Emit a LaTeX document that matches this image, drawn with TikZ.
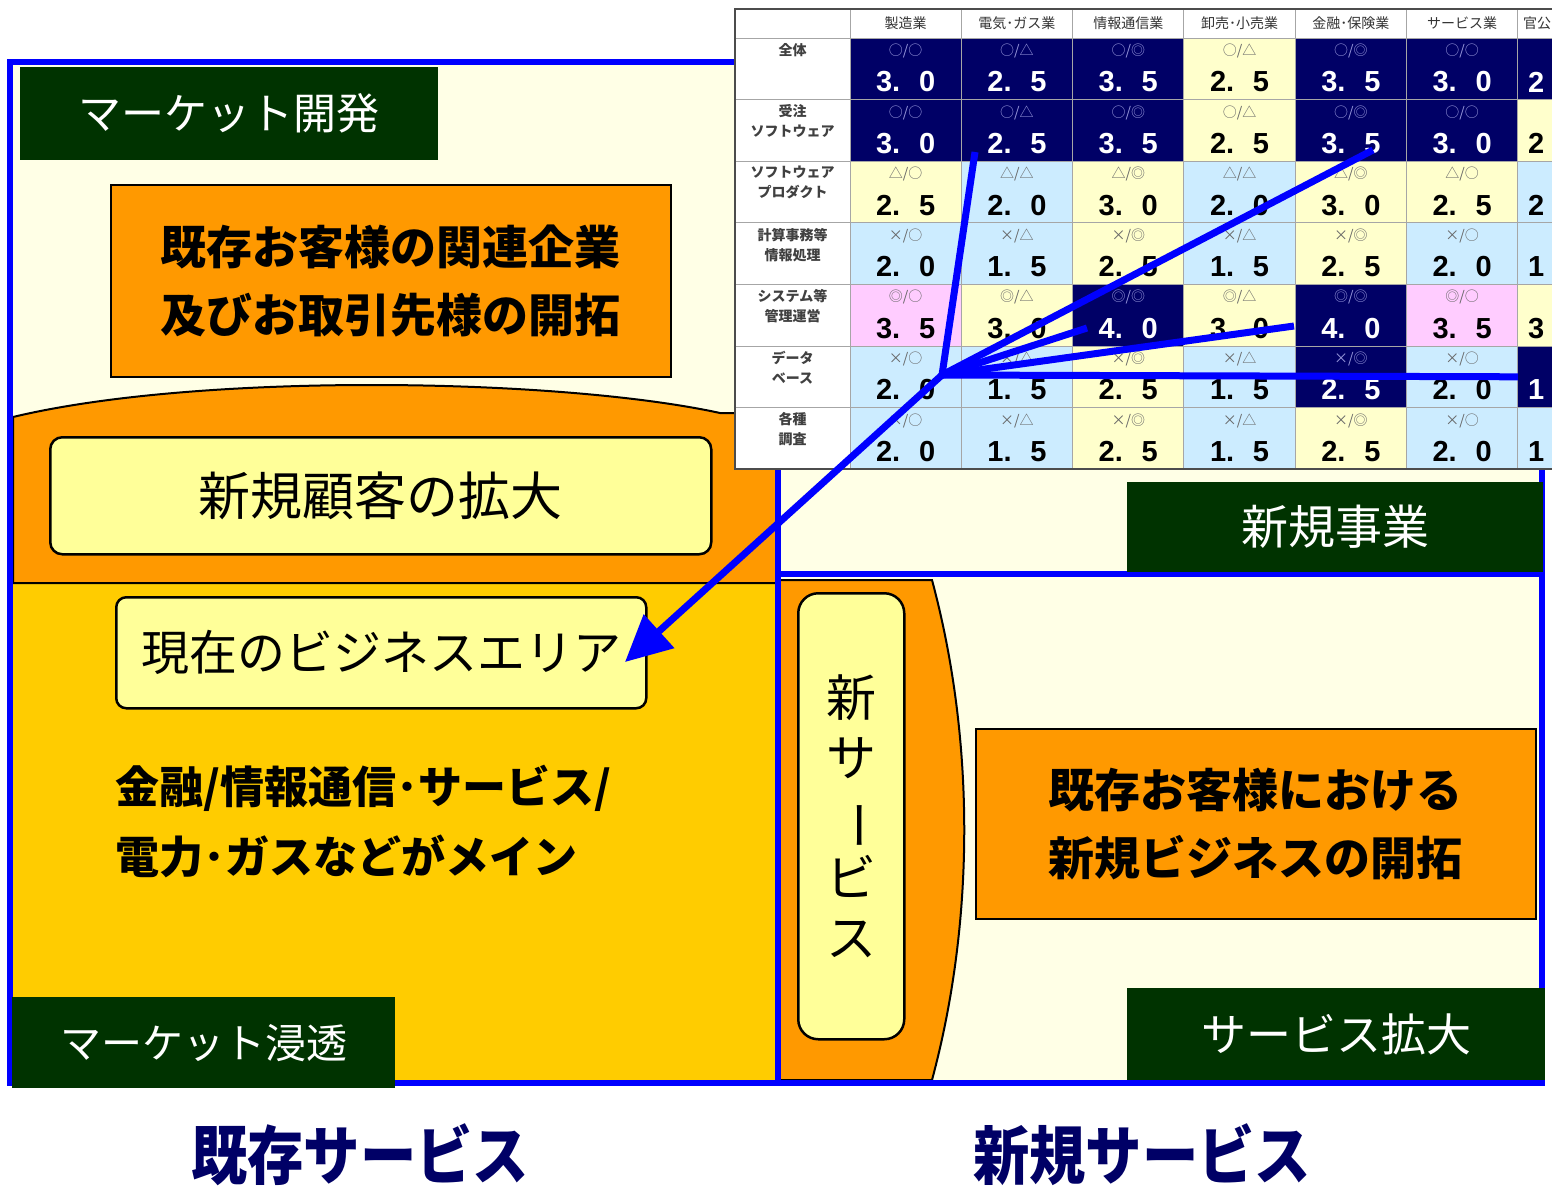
\documentclass[tikz,border=0pt]{standalone}
\usepackage{fontspec}
\setmainfont{Noto Sans CJK JP}
\newfontfamily\numfont{Liberation Sans}[WordSpace=2]
\usetikzlibrary{arrows.meta}

\definecolor{frameblue}{HTML}{0000FF}
\definecolor{darkgreen}{HTML}{003300}
\definecolor{orangebox}{HTML}{FF9900}
\definecolor{goldarea}{HTML}{FFCC00}
\definecolor{paleyellow}{HTML}{FFFF99}
\definecolor{cream}{HTML}{FFFFE6}
\definecolor{navytext}{HTML}{000066}
% table cell colours: fill, number, symbols
\definecolor{nv}{HTML}{000066}\definecolor{nvtxt}{HTML}{FFFFFF}\definecolor{nvsym}{HTML}{9999DD}
\definecolor{ye}{HTML}{FFFFCC}\definecolor{yetxt}{HTML}{000000}\definecolor{yesym}{HTML}{666666}
\definecolor{bl}{HTML}{CCECFF}\definecolor{bltxt}{HTML}{000000}\definecolor{blsym}{HTML}{666666}
\definecolor{pk}{HTML}{FFCCFF}\definecolor{pktxt}{HTML}{000000}\definecolor{pksym}{HTML}{666666}

\begin{document}
\begin{tikzpicture}[x=1pt, y=-1pt,
    frame/.style={draw=frameblue, line width=6pt},
    greenbox/.style={fill=darkgreen, text=white, inner sep=0pt, anchor=north west, font=\fontsize{47}{50}\selectfont},
    plan/.style={draw=black, line width=1.5pt, fill=orangebox, inner sep=0pt, anchor=north west, align=center, font=\bfseries\fontsize{46}{68}\selectfont},
    pill/.style={draw=black, line width=2.5pt, fill=paleyellow, rounded corners=12pt, inner sep=0pt, anchor=north west, font=\fontsize{52}{56}\selectfont},
    cell/.style={draw=gray!70, line width=1pt, inner sep=0pt, outer sep=0pt, anchor=north west, minimum width=111.3pt, minimum height=61.6pt},
    sym/.style={inner sep=0pt, font=\fontsize{14}{14}\selectfont},
    num/.style={inner sep=0pt, font=\numfont\bfseries\fontsize{29}{29}\selectfont},
    rowhead/.style={inner sep=0pt, anchor=north, align=center, text=black!75, font=\bfseries\fontsize{14}{20}\selectfont},
    colhead/.style={inner sep=0pt, text=black!80, font=\fontsize{14}{14}\selectfont},
    ray/.style={draw=frameblue, line width=7pt},
    bigarrow/.style={ray, -{Triangle[length=46pt,width=44pt]}},
    service/.style={inner sep=0pt, text=navytext, xscale=0.88, transform shape, font=\bfseries\fontsize{64}{64}\selectfont}
  ]
  \fill[white] (0,0) rectangle (1552,1189);
  \useasboundingbox (0,0) rectangle (1552,1189);
  \fill[cream] (10,62) rectangle (1542,1083);

  \fill[goldarea] (13,583) rectangle (776,1083);
  \draw[fill=orangebox, line width=2pt] (13,583) -- (13,417) .. controls (200,372) and (560,378) .. (720,413) -- (776,413) -- (776,583) -- cycle;
  \draw[fill=orangebox, line width=2pt] (778,580) -- (932,580) .. controls (975,740) and (975,920) .. (932,1080) -- (778,1080) -- cycle;

  \draw[frame] (10,62) rectangle (1542,1083);
  \draw[frame] (778,415) -- (778,1083);
  \draw[frame] (778,574) -- (1542,574);

  \node[greenbox, minimum width=418pt, minimum height=93pt, font=\fontsize{43}{50}\selectfont] (mkdev) at (20,67) {マーケット開発};
  \node[greenbox, minimum width=383pt, minimum height=91pt, font=\fontsize{41}{50}\selectfont] (mkpen) at (12,997) {マーケット浸透};
  \node[greenbox, minimum width=416pt, minimum height=90pt] (newbiz) at (1127,482) {新規事業};
  \node[greenbox, minimum width=418pt, minimum height=92pt, font=\fontsize{45}{50}\selectfont] (svcexp) at (1127,988) {サービス拡大};

  \node[plan, minimum width=560pt, minimum height=192pt] (related) at (110,184) {既存お客様の関連企業\\及びお取引先様の開拓};
  \node[plan, minimum width=560pt, minimum height=190pt] (newbizdev) at (975,728) {既存お客様における\\新規ビジネスの開拓};

  \node[pill, minimum width=661pt, minimum height=117pt] (newcust) at (49,436) {新規顧客の拡大};
  \node[pill, minimum width=530pt, minimum height=111pt, rounded corners=10pt, font=\fontsize{48}{52}\selectfont] (area) at (115,596) {現在のビジネスエリア};
  \node[pill, minimum width=106pt, minimum height=446pt, rounded corners=20pt, align=center, font=\fontsize{50}{60}\selectfont] (newsvc) at (797,592) {新\\サ\\\rotatebox[origin=c]{-90}{ー}\\ビ\\ス};

  \node[inner sep=0pt, anchor=north west, align=left, font=\bfseries\fontsize{44}{70}\selectfont] (mainfields) at (115,765) {金融/情報通信･サービス/\\電力･ガスなどがメイン};

  \begin{scope}
    \clip (734,8) rectangle (1552,471);
    \fill[white] (735,9) rectangle (1640,469);
    \node[cell, fill=white, minimum width=115pt, minimum height=29pt] (corner) at (735,9) {};
    \foreach \head [count=\c] in {製造業,電気･ガス業,情報通信業,卸売･小売業,金融･保険業,サービス業}
      \node[cell, fill=white, minimum height=29pt] (head-\c) at ({850+111.3*(\c-1)},9) {\tikz[baseline]\node[colhead]{\head};};
    \node[cell, fill=white, minimum height=29pt] (head-7) at (1517.8,9) {};
    \node[colhead, anchor=west] at ([xshift=5pt]head-7.west) {官公};
    \foreach \rname [count=\r] in {全体,受注\\ソフトウェア,ソフトウェア\\プロダクト,計算事務等\\情報処理,システム等\\管理運営,データ\\ベース,各種\\調査}{
      \node[cell, fill=white, minimum width=115pt] (row-\r) at (735,{38+61.6*(\r-1)}) {};
      \node[rowhead] at ([yshift=-5pt]row-\r.north) {\rname};
    }
    \foreach \rowdata [count=\r] in {
      {nv/○/○/3. 0,nv/○/△/2. 5,nv/○/◎/3. 5,ye/○/△/2. 5,nv/○/◎/3. 5,nv/○/○/3. 0},
      {nv/○/○/3. 0,nv/○/△/2. 5,nv/○/◎/3. 5,ye/○/△/2. 5,nv/○/◎/3. 5,nv/○/○/3. 0},
      {ye/△/○/2. 5,bl/△/△/2. 0,ye/△/◎/3. 0,bl/△/△/2. 0,ye/△/◎/3. 0,ye/△/○/2. 5},
      {bl/×/○/2. 0,bl/×/△/1. 5,ye/×/◎/2. 5,bl/×/△/1. 5,ye/×/◎/2. 5,bl/×/○/2. 0},
      {pk/◎/○/3. 5,ye/◎/△/3. 0,nv/◎/◎/4. 0,ye/◎/△/3. 0,nv/◎/◎/4. 0,pk/◎/○/3. 5},
      {bl/×/○/2. 0,bl/×/△/1. 5,ye/×/◎/2. 5,bl/×/△/1. 5,nv/×/◎/2. 5,bl/×/○/2. 0},
      {bl/×/○/2. 0,bl/×/△/1. 5,ye/×/◎/2. 5,bl/×/△/1. 5,ye/×/◎/2. 5,bl/×/○/2. 0}}{
      \foreach \fc/\sa/\sb/\num [count=\c] in \rowdata {
        \node[cell, fill=\fc] (cell-\r-\c) at ({850+111.3*(\c-1)},{38+61.6*(\r-1)}) {};
        \node[sym, text=\fc sym] at ([yshift=-13pt]cell-\r-\c.north) {\sa/\sb};
        \node[num, text=\fc txt] at ([yshift=-44pt]cell-\r-\c.north) {\num};
      }
    }
    \foreach \fc/\digit [count=\r] in {nv/2,ye/2,bl/2,bl/1,ye/3,nv/1,bl/1}{
      \node[cell, fill=\fc] (cell-\r-7) at (1517.8,{38+61.6*(\r-1)}) {};
      \node[num, text=\fc txt, anchor=west] at ([xshift=10pt,yshift=-44pt]cell-\r-7.north west) {\digit};
    }
    \draw[gray!60!black, line width=1.5pt] (735,9) rectangle (1640,469);
  \end{scope}

  \coordinate (hub) at (942,375);
  \coordinate (fromgas) at (975,152);
  \coordinate (fromfin) at (1373,150);
  \coordinate (fromit) at (1087,328);
  \coordinate (fromsys) at (1294,326);
  \coordinate (frompub) at (cell-6-7.west);
  \coordinate (target) at (625,662);
  \draw[ray] (fromgas) -- (hub);
  \draw[ray] (fromfin) -- (hub);
  \draw[ray] (fromit) -- (hub);
  \draw[ray] (fromsys) -- (hub);
  \draw[ray] (frompub) -- (hub);
  \draw[bigarrow] (hub) -- (target);

  \node[service] (oldsvc) at (360,1155) {既存サービス};
  \node[service] (newsvclbl) at (1142,1155) {新規サービス};
\end{tikzpicture}
\end{document}
